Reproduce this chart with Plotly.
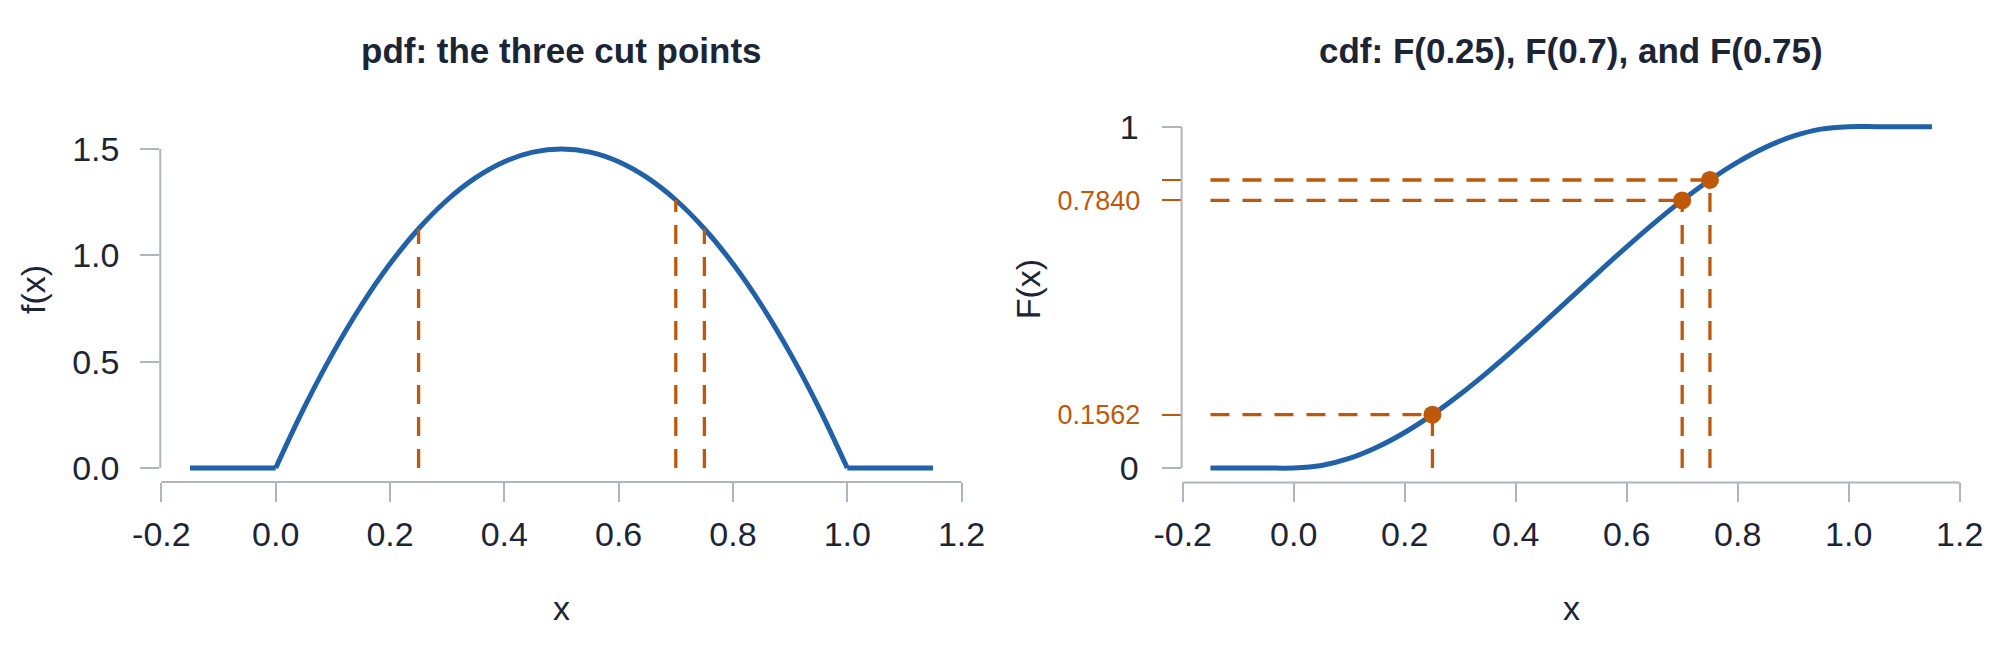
import plotly.graph_objects as go

# ---------------- data ----------------
x_vals = [-0.15, -0.10, -0.05, 0.00, 0.05, 0.10, 0.15, 0.20, 0.25, 0.30, 0.35,
          0.40, 0.45, 0.50, 0.55, 0.60, 0.65, 0.70, 0.75, 0.80, 0.85, 0.90,
          0.95, 1.00, 1.05, 1.10, 1.15]
pdf_vals = [0.0, 0.0, 0.0, 0.0, 0.285, 0.54, 0.765, 0.96, 1.125, 1.26, 1.365,
            1.44, 1.485, 1.5, 1.485, 1.44, 1.365, 1.26, 1.125, 0.96, 0.765, 0.54,
            0.285, 0.0, 0.0, 0.0, 0.0]
cdf_vals = [0.0, 0.0, 0.0, 0.0, 0.0073, 0.028, 0.0608, 0.104, 0.1562, 0.216, 0.2818,
            0.352, 0.4253, 0.5, 0.5748, 0.648, 0.7183, 0.784, 0.8438, 0.896, 0.9393,
            0.972, 0.9928, 1.0, 1.0, 1.0, 1.0]

support = [0.0, 1.0]  # where the density is positive

cut_x = [0.25, 0.70, 0.75]
cut_pdf = [1.125, 1.26, 1.125]
cut_cdf = [0.15625, 0.784, 0.84375]
cut_cdf_labels = ["0.1562", "0.7840", ""]

x_ticks = [-0.2, 0.0, 0.2, 0.4, 0.6, 0.8, 1.0, 1.2]
x_tick_labels = ["-0.2", "0.0", "0.2", "0.4", "0.6", "0.8", "1.0", "1.2"]
pdf_ticks = [0.0, 0.5, 1.0, 1.5]
pdf_tick_labels = ["0.0", "0.5", "1.0", "1.5"]
cdf_ticks = [0, 1]
cdf_tick_labels = ["0", "1"]

title_left = "pdf: the three cut points"
title_right = "cdf: F(0.25), F(0.7), and F(0.75)"

# ---------------- styles ----------------
BLUE = "#2161A8"
ORANGE = "#C0580A"
GRAY = "#AEB5BD"
TEXT = "#1C2535"
FONT = "Liberation Sans, Arial, sans-serif"
DASH = "19px,13px"

fig = go.Figure()

# pdf panel: flat parts as straight lines, the curved part smoothed
lo, hi = support
left_idx = [i for i, x in enumerate(x_vals) if x <= lo]
mid_idx = [i for i, x in enumerate(x_vals) if lo <= x <= hi]
right_idx = [i for i, x in enumerate(x_vals) if x >= hi]
for idx, shape in ((left_idx, "linear"), (mid_idx, "spline"), (right_idx, "linear")):
    fig.add_trace(go.Scatter(x=[x_vals[i] for i in idx], y=[pdf_vals[i] for i in idx],
                             mode="lines",
                             line=dict(color=BLUE, width=5, shape=shape),
                             xaxis="x", yaxis="y", hoverinfo="skip"))
for cx, cy in zip(cut_x, cut_pdf):
    fig.add_trace(go.Scatter(x=[cx, cx], y=[0, cy], mode="lines",
                             line=dict(color=ORANGE, width=3.3, dash=DASH),
                             xaxis="x", yaxis="y", hoverinfo="skip"))

# cdf panel
fig.add_trace(go.Scatter(x=x_vals, y=cdf_vals, mode="lines",
                         line=dict(color=BLUE, width=5, shape="spline"),
                         xaxis="x2", yaxis="y2", hoverinfo="skip"))
for cx, cy in zip(cut_x, cut_cdf):
    fig.add_trace(go.Scatter(x=[cx, cx], y=[0, cy], mode="lines",
                             line=dict(color=ORANGE, width=3.3, dash=DASH),
                             xaxis="x2", yaxis="y2", hoverinfo="skip"))
    fig.add_trace(go.Scatter(x=[x_vals[0], cx], y=[cy, cy], mode="lines",
                             line=dict(color=ORANGE, width=3.3, dash=DASH),
                             xaxis="x2", yaxis="y2", hoverinfo="skip"))
# markers on the overlaying axis (same range) so the orange ticks are drawn
fig.add_trace(go.Scatter(x=cut_x, y=cut_cdf, mode="markers",
                         marker=dict(color=ORANGE, size=18),
                         xaxis="x2", yaxis="y3", hoverinfo="skip", cliponaxis=False))

tick_common = dict(ticks="outside", ticklen=19, tickwidth=2, tickcolor=GRAY,
                   showline=False, showgrid=False, zeroline=False, automargin=False,
                   tickfont=dict(family=FONT, size=34, color=TEXT))

x_range = [-0.202, 1.202]
cdf_range = [-0.0425, 1.04]

fig.update_layout(
    width=1996, height=652,
    margin=dict(l=0, r=0, t=0, b=0),
    paper_bgcolor="white", plot_bgcolor="white",
    showlegend=False,
    xaxis=dict(domain=[0.08029, 0.48232], range=x_range, anchor="y",
               tickmode="array", tickvals=x_ticks, ticktext=x_tick_labels,
               ticklabelstandoff=3, **tick_common),
    yaxis=dict(domain=[0.26074, 0.79110], range=[-0.066, 1.56], anchor="x",
               tickmode="array", tickvals=pdf_ticks, ticktext=pdf_tick_labels,
               ticklabelstandoff=14, **tick_common),
    xaxis2=dict(domain=[0.59198, 0.98236], range=x_range, anchor="y2",
                tickmode="array", tickvals=x_ticks, ticktext=x_tick_labels,
                ticklabelstandoff=3, **tick_common),
    yaxis2=dict(domain=[0.25997, 0.82669], range=cdf_range, anchor="x2",
                tickmode="array", tickvals=cdf_ticks, ticktext=cdf_tick_labels,
                ticklabelstandoff=16, **tick_common),
    yaxis3=dict(overlaying="y2", anchor="x2", range=cdf_range, side="left",
                tickmode="array", tickvals=cut_cdf, ticktext=cut_cdf_labels,
                ticks="outside", ticklen=19, tickwidth=2, tickcolor=ORANGE,
                showline=False, showgrid=False, zeroline=False, automargin=False,
                ticklabelstandoff=16,
                tickfont=dict(family=FONT, size=27, color=ORANGE)),
)

# axis lines spanning first..last tick (R style)
line_style = dict(color=GRAY, width=2)
fig.add_shape(type="line", xref="x", yref="y domain", x0=min(x_ticks), x1=max(x_ticks),
              y0=0, y1=0, line=line_style)
fig.add_shape(type="line", xref="x domain", yref="y", x0=0, x1=0,
              y0=min(pdf_ticks), y1=max(pdf_ticks), line=line_style)
fig.add_shape(type="line", xref="x2", yref="y2 domain", x0=min(x_ticks), x1=max(x_ticks),
              y0=0, y1=0, line=line_style)
fig.add_shape(type="line", xref="x2 domain", yref="y2", x0=0, x1=0,
              y0=min(cdf_ticks), y1=max(cdf_ticks), line=line_style)

# titles and axis titles
title_font = dict(family=FONT, size=35, color=TEXT)
label_font = dict(family=FONT, size=34, color=TEXT)
fig.add_annotation(text="<b>" + title_left + "</b>", xref="paper", yref="paper",
                   x=0.2813, y=0.9233, xanchor="center", yanchor="middle",
                   showarrow=False, font=title_font)
fig.add_annotation(text="<b>" + title_right + "</b>", xref="paper", yref="paper",
                   x=0.7872, y=0.9233, xanchor="center", yanchor="middle",
                   showarrow=False, font=title_font)
fig.add_annotation(text="x", xref="paper", yref="paper", x=0.2813, y=0.068,
                   xanchor="center", yanchor="middle", showarrow=False, font=label_font)
fig.add_annotation(text="x", xref="paper", yref="paper", x=0.7872, y=0.068,
                   xanchor="center", yanchor="middle", showarrow=False, font=label_font)
fig.add_annotation(text="f(x)", xref="paper", yref="paper", x=0.01653, y=0.5567,
                   xanchor="center", yanchor="middle", textangle=-90,
                   showarrow=False, font=label_font)
fig.add_annotation(text="F(x)", xref="paper", yref="paper", x=0.5152, y=0.5567,
                   xanchor="center", yanchor="middle", textangle=-90,
                   showarrow=False, font=label_font)

fig.write_html("out.html", config={"displayModeBar": False},
               post_script="document.body.style.margin='0';"
                           "document.body.style.overflow='hidden';")
